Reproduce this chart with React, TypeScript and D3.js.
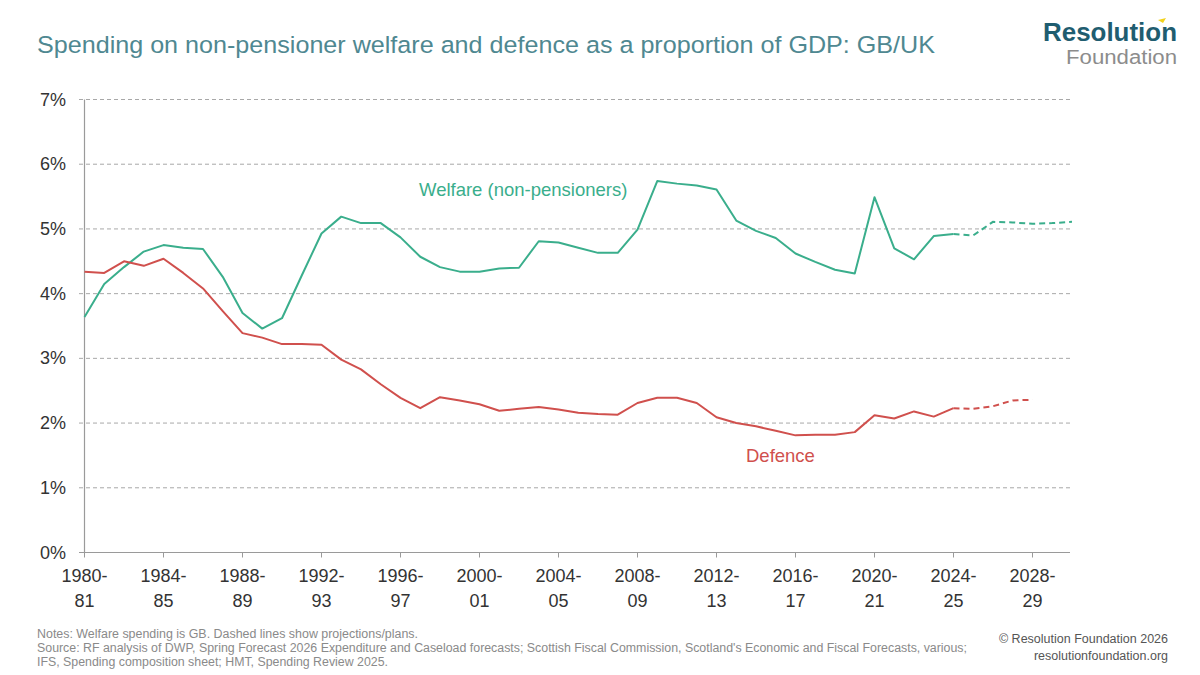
import React from "react";
import * as d3 from "d3";

const years: number[] = d3.range(1980, 2031);
const tickYears: number[] = [1980, 1984, 1988, 1992, 1996, 2000, 2004, 2008, 2012, 2016, 2020, 2024, 2028];
const yTicks: number[] = [0, 1, 2, 3, 4, 5, 6, 7];

// Welfare (non-pensioners), % of GDP, 1980-81 .. 2030-31 (last 6 are projections)
const welfare: number[] = [
  3.64, 4.15, 4.41, 4.65, 4.75, 4.71, 4.69, 4.26, 3.7, 3.46,
  3.62, 4.28, 4.93, 5.19, 5.09, 5.09, 4.87, 4.57, 4.41, 4.34,
  4.34, 4.39, 4.4, 4.81, 4.79, 4.71, 4.63, 4.63, 4.99, 5.74,
  5.7, 5.67, 5.61, 5.13, 4.97, 4.86, 4.62, 4.49, 4.37, 4.31,
  5.49, 4.7, 4.53, 4.89, 4.92, 4.9, 5.11, 5.1, 5.08, 5.09, 5.11,
];
// Defence, % of GDP, 1980-81 .. 2028-29
const defence: number[] = [
  4.34, 4.32, 4.5, 4.43, 4.54, 4.32, 4.08, 3.73, 3.39, 3.32,
  3.22, 3.22, 3.21, 2.98, 2.83, 2.6, 2.39, 2.23, 2.4, 2.35,
  2.29, 2.19, 2.22, 2.25, 2.21, 2.16, 2.14, 2.13, 2.31, 2.39,
  2.39, 2.31, 2.09, 2.0, 1.95, 1.88, 1.81, 1.82, 1.82, 1.86,
  2.12, 2.07, 2.18, 2.1, 2.23, 2.22, 2.26, 2.35, 2.36,
];
const lastActualYear = 2024;

const GREEN = "#3aae8c";
const RED = "#d0504d";
const FONT = "'Liberation Sans', Arial, sans-serif";

export default function App() {
  const W = 1200;
  const H = 675;
  const x = d3.scaleLinear().domain([1980, 2030]).range([84.5, 1072]);
  const y = d3.scaleLinear().domain([0, 7]).range([552.5, 99.5]);

  type P = [number, number];
  const line = d3
    .line<P>()
    .x((d) => x(d[0]))
    .y((d) => y(d[1]));

  const wPts: P[] = welfare.map((v, i) => [years[i], v]);
  const dPts: P[] = defence.map((v, i) => [years[i], v]);
  const split = (pts: P[]) => ({
    solid: pts.filter((p) => p[0] <= lastActualYear),
    dashed: pts.filter((p) => p[0] >= lastActualYear),
  });
  const w = split(wPts);
  const dd = split(dPts);

  return (
    <svg
      width={W}
      height={H}
      style={{ position: "absolute", left: 0, top: 0, background: "#fff" }}
      fontFamily={FONT}
    >
      <rect width={W} height={H} fill="#fff" />
      {/* Title */}
      <text x={37} y={53} fontSize={24.5} fill="#4f8891" fontWeight={300} textLength={898} lengthAdjust="spacingAndGlyphs">
        Spending on non-pensioner welfare and defence as a proportion of GDP: GB/UK
      </text>
      {/* Logo */}
      <text x={1177} y={41} textAnchor="end" fontSize={26} fontWeight={700} fill="#1f5d70" textLength={134} lengthAdjust="spacingAndGlyphs">
        Resolution
      </text>
      <path d="M1158,20 L1166,18 L1163,23 Z" fill="#f2d21a" />
      <text x={1177} y={63.5} textAnchor="end" fontSize={19.5} fill="#8c8c8c" textLength={111} lengthAdjust="spacingAndGlyphs">
        Foundation
      </text>

      {/* Grid */}
      {yTicks.filter((t) => t > 0).map((t) => (
        <line key={t} x1={79} x2={1070} y1={y(t)} y2={y(t)} stroke="#a8a8a8" strokeWidth={1} strokeDasharray="4,3" />
      ))}
      {/* Axes */}
      <line x1={x(1980)} x2={x(1980)} y1={y(7)} y2={y(0)} stroke="#9a9a9a" strokeWidth={1.2} />
      <line x1={79} x2={1070} y1={y(0)} y2={y(0)} stroke="#9a9a9a" strokeWidth={1.2} />
      {tickYears.map((t) => (
        <line key={t} x1={x(t)} x2={x(t)} y1={y(0)} y2={y(0) + 5} stroke="#9a9a9a" strokeWidth={1} />
      ))}
      {/* Y tick labels */}
      {yTicks.map((t) => (
        <text key={t} x={66} y={y(t) + 6} textAnchor="end" fontSize={18} fill="#333">
          {`${t}%`}
        </text>
      ))}
      {/* X tick labels */}
      {tickYears.map((t) => (
        <g key={t}>
          <text x={x(t)} y={582} textAnchor="middle" fontSize={18} fill="#333">
            {`${t}-`}
          </text>
          <text x={x(t)} y={607} textAnchor="middle" fontSize={18} fill="#333">
            {String((t + 1) % 100).padStart(2, "0")}
          </text>
        </g>
      ))}

      {/* Lines */}
      <path d={line(w.solid) || ""} fill="none" stroke={GREEN} strokeWidth={2} strokeLinejoin="round" />
      <path d={line(w.dashed) || ""} fill="none" stroke={GREEN} strokeWidth={2} strokeDasharray="6,4" />
      <path d={line(dd.solid) || ""} fill="none" stroke={RED} strokeWidth={2} strokeLinejoin="round" />
      <path d={line(dd.dashed) || ""} fill="none" stroke={RED} strokeWidth={2} strokeDasharray="6,4" />

      {/* Series labels */}
      <text x={419} y={196} fontSize={18.5} fill={GREEN}>
        Welfare (non-pensioners)
      </text>
      <text x={746} y={462} fontSize={18.5} fill={RED}>
        Defence
      </text>

      {/* Footnotes */}
      <g fontSize={12.3} fill="#8a8a8a">
        <text x={37} y={638} textLength={381} lengthAdjust="spacingAndGlyphs">Notes: Welfare spending is GB. Dashed lines show projections/plans.</text>
        <text x={37} y={652} textLength={930} lengthAdjust="spacingAndGlyphs">
          Source: RF analysis of DWP, Spring Forecast 2026 Expenditure and Caseload forecasts; Scottish Fiscal Commission, Scotland's Economic and Fiscal Forecasts, various;
        </text>
        <text x={37} y={666} textLength={351} lengthAdjust="spacingAndGlyphs">IFS, Spending composition sheet; HMT, Spending Review 2025.</text>
      </g>
      <g fontSize={12.5} fill="#555" textAnchor="end">
        <text x={1168} y={643}>© Resolution Foundation 2026</text>
        <text x={1168} y={660}>resolutionfoundation.org</text>
      </g>
    </svg>
  );
}
